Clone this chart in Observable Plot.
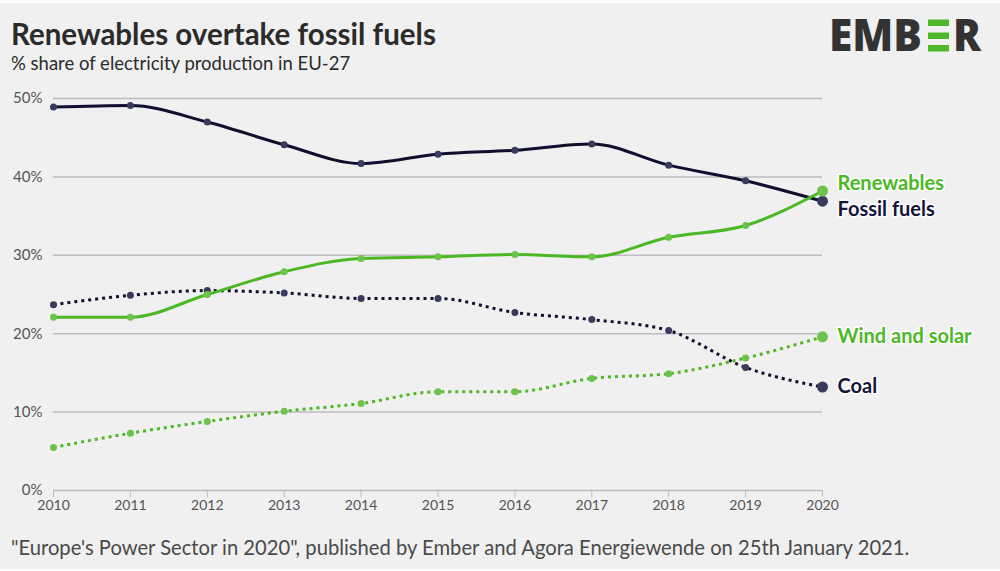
<!DOCTYPE html>
<html><head><meta charset="utf-8">
<script src="https://cdn.jsdelivr.net/npm/d3@7"></script>
<script src="https://cdn.jsdelivr.net/npm/@observablehq/plot@0.6"></script>
<style>
html,body{margin:0;padding:0;background:#fff;}
#frame{position:relative;width:1000px;height:566px;margin-top:3px;background:#f0f0f0;font-family:Lato,"Noto Sans",sans-serif;overflow:hidden;}
#title{position:absolute;left:11px;top:16px;font-size:29.5px;line-height:1;font-weight:700;color:#2b2b2b;white-space:nowrap;}
#subtitle{position:absolute;left:11px;top:51px;font-size:18.5px;line-height:1;color:#2b2b2b;white-space:nowrap;}
#caption{position:absolute;left:11px;top:534px;font-size:20.2px;line-height:1;color:#4a4a4a;white-space:nowrap;}
#chart{position:absolute;left:0;top:77px;}
#logo{position:absolute;left:0;top:-3px;}
</style></head>
<body>
<div id="frame">
  <svg id="logo" width="1000" height="70">
    <g font-family="'Open Sans',sans-serif" font-weight="800" font-size="45" fill="#333">
      <text x="829" y="51" textLength="93" lengthAdjust="spacingAndGlyphs">EMB</text>
      <text x="953" y="51" textLength="28" lengthAdjust="spacingAndGlyphs">R</text>
    </g>
    <g fill="#4cb82a">
      <rect x="928" y="19.5" width="21" height="6.5"/>
      <rect x="928" y="32.5" width="21" height="6.5"/>
      <rect x="928" y="45" width="21" height="6.5"/>
    </g>
  </svg>
  <div id="title">Renewables overtake fossil fuels</div>
  <div id="subtitle">% share of electricity production in EU-27</div>
  <div id="chart"></div>
  <div id="caption">"Europe's Power Sector in 2020", published by Ember and Agora Energiewende on 25th January 2021.</div>
</div>
<script>
const years = [2010, 2011, 2012, 2013, 2014, 2015, 2016, 2017, 2018, 2019, 2020];
const fossil = [48.9, 49.1, 47.0, 44.1, 41.7, 42.9, 43.4, 44.2, 41.5, 39.5, 36.9];
const renewables = [22.1, 22.1, 25.0, 27.9, 29.6, 29.8, 30.1, 29.8, 32.3, 33.8, 38.2];
const coal = [23.7, 24.9, 25.5, 25.2, 24.5, 24.5, 22.7, 21.8, 20.4, 15.7, 13.2];
const windSolar = [5.5, 7.3, 8.8, 10.1, 11.1, 12.6, 12.6, 14.3, 14.9, 16.9, 19.6];
const yTicks = [0, 10, 20, 30, 40, 50];
const seriesNames = ["Coal", "Wind and solar", "Fossil fuels", "Renewables"];

const seriesDefs = [
  {name: seriesNames[0], values: coal, line: "#10102e", dot: "#3a3a5c", label: "#14143a", dash: "3,4", dy: 0},
  {name: seriesNames[1], values: windSolar, line: "#4cb826", dot: "#6cc24a", label: "#4cb826", dash: "3,4", dy: 0},
  {name: seriesNames[2], values: fossil, line: "#10102e", dot: "#3a3a5c", label: "#14143a", dash: null, dy: 8},
  {name: seriesNames[3], values: renewables, line: "#4cb826", dot: "#6cc24a", label: "#4cb826", dash: null, dy: -7}
];

const marks = [
  Plot.gridY(yTicks.filter(d => d > 0), {stroke: "#bdbdbd", strokeOpacity: 1, strokeWidth: 1.5}),
  Plot.ruleY([0], {stroke: "#bdbdbd", strokeWidth: 1.5}),
  Plot.axisX({ticks: years, tickFormat: d => String(d), tickSize: 7, tickPadding: 3, stroke: "#bdbdbd", fill: "#555", fontSize: 14, label: null}),
  Plot.axisY({ticks: yTicks, tickFormat: d => d + "%", tickSize: 0, tickPadding: 11, fill: "#555", fontSize: 15, label: null})
];

for (const s of seriesDefs) {
  const rows = years.map((y, i) => ({year: y, value: s.values[i], last: i === years.length - 1}));
  marks.push(Plot.line(rows, {x: "year", y: "value", curve: "monotone-x", stroke: s.line, strokeWidth: 3, strokeDasharray: s.dash, strokeLinecap: "butt"}));
  marks.push(Plot.dot(rows.filter(r => !r.last), {x: "year", y: "value", r: 3.5, fill: s.dot}));
  marks.push(Plot.dot(rows.filter(r => r.last), {x: "year", y: "value", r: 5.5, fill: s.dot}));
  marks.push(Plot.text(rows.filter(r => r.last), {x: "year", y: "value", text: () => s.name, dx: 15, dy: s.dy, textAnchor: "start", fill: s.label, stroke: "#ffffff", strokeWidth: 3, fontSize: 20, fontWeight: 700}));
}

const chart = Plot.plot({
  width: 1000,
  height: 440,
  marginLeft: 53,
  marginRight: 178,
  marginTop: 18,
  marginBottom: 30,
  style: {background: "transparent", fontFamily: "Lato, 'Noto Sans', sans-serif", color: "#555"},
  x: {type: "linear", domain: [2010, 2020]},
  y: {domain: [0, 50]},
  marks
});
document.getElementById("chart").appendChild(chart);
</script>
</body></html>
